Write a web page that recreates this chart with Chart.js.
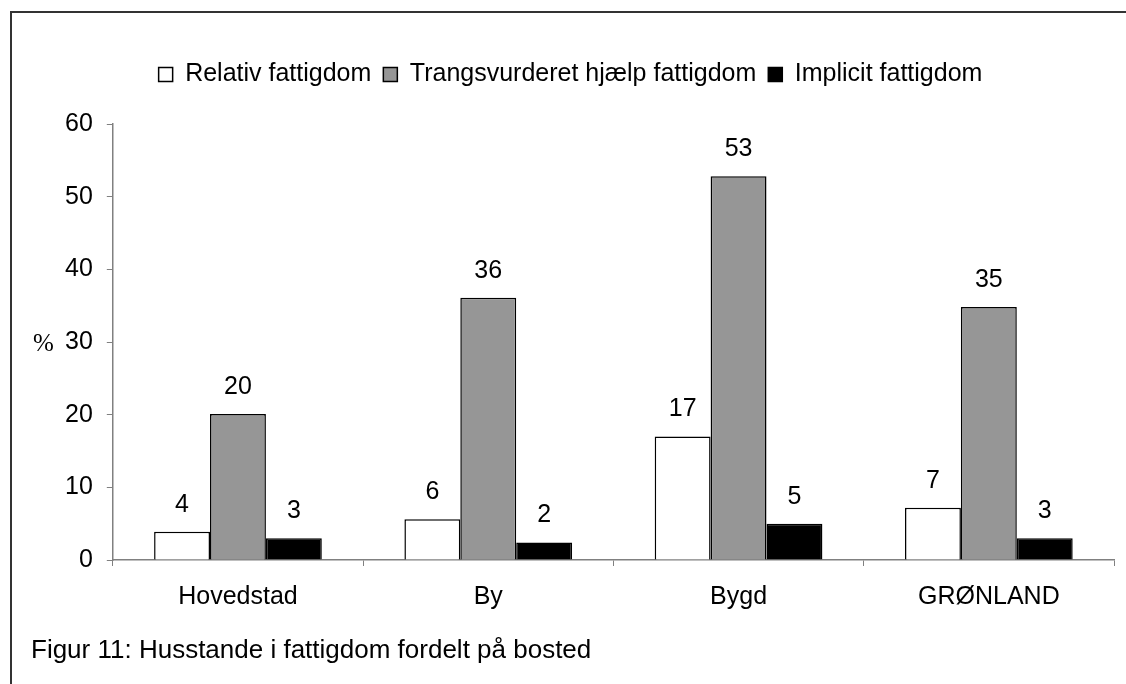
<!DOCTYPE html>
<html>
<head>
<meta charset="utf-8">
<script src="https://cdn.jsdelivr.net/npm/chart.js@4"></script>
<style>
    body { margin: 0; background: #fff; }
    #wrap { position: relative; width: 1126px; height: 684px; }
</style>
</head>
<body>
<div id="wrap"><canvas id="barChart" width="1126" height="684"></canvas></div>
<script>
// Data
const categories = ['Hovedstad', 'By', 'Bygd', 'GRØNLAND'];
const relativ = [3.9, 5.6, 17.0, 7.2];
const trangsvurderet = [20.1, 36.1, 52.8, 34.8];
const implicit = [3.0, 2.4, 5.0, 3.0];
const seriesNames = ['Relativ fattigdom', 'Trangsvurderet hjælp fattigdom', 'Implicit fattigdom'];
const yTicks = [0, 10, 20, 30, 40, 50, 60];
const caption = 'Figur 11: Husstande i fattigdom fordelt på bosted';

const FONT = 'Arial, "Liberation Sans", sans-serif';
const FS = 25;

// Frame (only left and top edges are visible in the picture) + caption + "%"
const extras = {
    id: 'extras',
    afterLayout(chart) {
        // legend sits a little left of centre and higher in the original
        chart.legend.left -= 12;
        chart.legend.right -= 12;
        chart.legend.top -= 27;
        chart.legend.bottom -= 27;
    },
    beforeDraw(chart) {
        const ctx = chart.ctx;
        ctx.save();
        ctx.fillStyle = '#fff';
        ctx.fillRect(0, 0, chart.width, chart.height);
        ctx.strokeStyle = '#333';
        ctx.lineWidth = 2;
        ctx.beginPath();
        ctx.moveTo(11, chart.height);
        ctx.lineTo(11, 12);
        ctx.lineTo(chart.width, 12);
        ctx.stroke();
        ctx.restore();
    },
    afterDraw(chart) {
        const ctx = chart.ctx;
        ctx.save();
        ctx.fillStyle = '#000';
        ctx.font = '26px ' + FONT;
        ctx.textBaseline = 'middle';
        ctx.textAlign = 'left';
        ctx.fillText(caption, 31, 651);
        ctx.font = FS + 'px "Liberation Serif", "Times New Roman", serif';
        ctx.fillText('%', 33, chart.scales.y.getPixelForValue(30) + 2);
        ctx.restore();
    }
};

// Rounded value labels above every bar
const valueLabels = {
    id: 'valueLabels',
    afterDatasetsDraw(chart) {
        const ctx = chart.ctx;
        ctx.save();
        ctx.fillStyle = '#000';
        ctx.font = FS + 'px ' + FONT;
        ctx.textAlign = 'center';
        ctx.textBaseline = 'middle';
        chart.data.datasets.forEach((ds, i) => {
            chart.getDatasetMeta(i).data.forEach((bar, j) => {
                ctx.fillText(Math.round(ds.data[j]), bar.x, bar.y - 27);
            });
        });
        ctx.restore();
    }
};

const ctx = document.getElementById('barChart').getContext('2d');
new Chart(ctx, {
    type: 'bar',
    data: {
        labels: categories,
        datasets: [{
            label: seriesNames[0],
            data: relativ,
            backgroundColor: '#ffffff',
            borderColor: '#000',
            borderWidth: 1.5
        }, {
            label: seriesNames[1],
            data: trangsvurderet,
            backgroundColor: '#969696',
            borderColor: '#000',
            borderWidth: 1.5
        }, {
            label: seriesNames[2],
            data: implicit,
            backgroundColor: '#000000',
            borderColor: '#000',
            borderWidth: 1.5
        }]
    },
    options: {
        responsive: false,
        animation: false,
        layout: {
            padding: { left: 51, right: 12, top: 77, bottom: 56 }
        },
        datasets: {
            bar: {
                categoryPercentage: 0.67,
                barPercentage: 1.0
            }
        },
        scales: {
            x: {
                grid: {
                    offset: true,
                    drawOnChartArea: false,
                    drawTicks: true,
                    tickLength: 6,
                    color: '#808080'
                },
                border: { display: true, color: '#808080', width: 1.5 },
                ticks: {
                    color: '#000',
                    font: { family: FONT, size: FS },
                    padding: 16
                }
            },
            y: {
                min: 0,
                max: 60,
                afterBuildTicks(scale) {
                    scale.ticks = yTicks.map(v => ({ value: v }));
                },
                grid: {
                    drawOnChartArea: false,
                    drawTicks: true,
                    tickLength: 6,
                    color: '#808080'
                },
                border: { display: true, color: '#808080', width: 1.5 },
                ticks: {
                    color: '#000',
                    font: { family: FONT, size: FS },
                    padding: 14
                }
            }
        },
        plugins: {
            legend: {
                position: 'top',
                labels: {
                    color: '#000',
                    font: { family: FONT, size: FS },
                    boxWidth: 14,
                    boxHeight: 14,
                    padding: 12,
                    useBorderRadius: false
                }
            },
            tooltip: { enabled: false }
        }
    },
    plugins: [extras, valueLabels]
});
</script>
</body>
</html>
